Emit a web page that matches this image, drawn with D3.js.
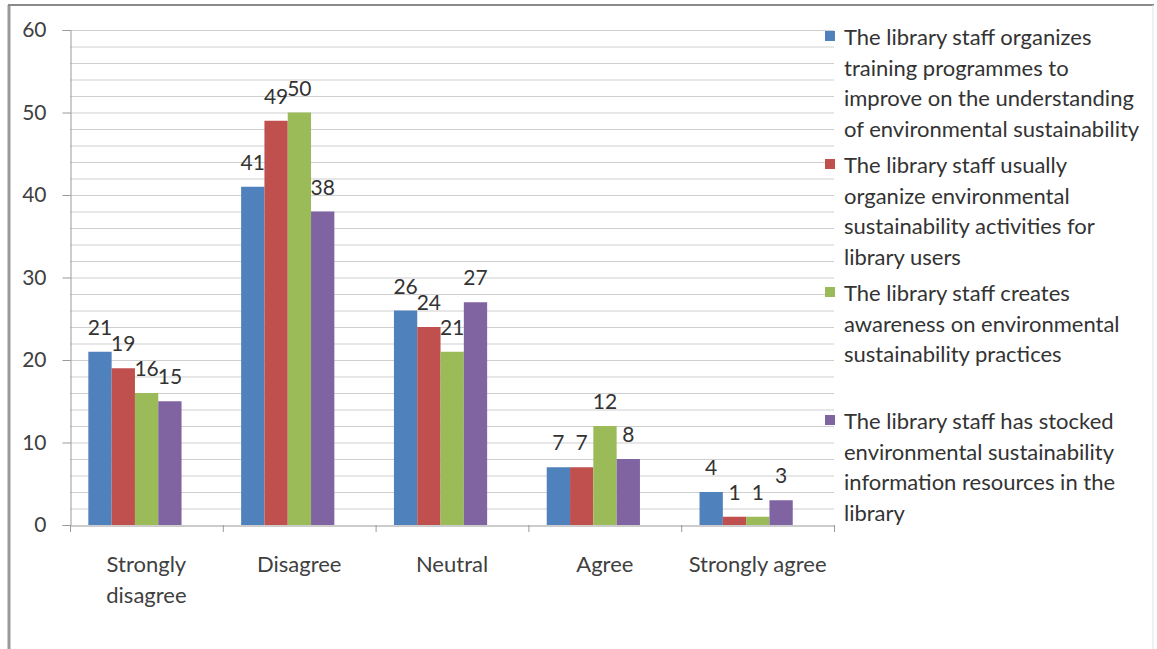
<!DOCTYPE html>
<html lang="en">
<head>
  <meta charset="utf-8">
  <script src="https://d3js.org/d3.v7.min.js"></script>
  <style>
    body { margin: 0; background: #fff; }
    text { font-family: Lato, "Open Sans", sans-serif; }
  </style>
</head>
<body>
<script>
  // categories on the x axis
  const categories = ["Strongly disagree", "Disagree", "Neutral", "Agree", "Strongly agree"];

  // one entry per series (legend text, wrapped as in the original)
  const seriesNames = [
    ["The library staff organizes", "training programmes to", "improve on the understanding", "of environmental sustainability"],
    ["The library staff usually", "organize environmental", "sustainability activities for", "library users"],
    ["The library staff creates", "awareness on environmental", "sustainability practices"],
    ["The library staff has stocked", "environmental sustainability", "information resources in the", "library"]
  ];
  const seriesColors = ["#4f81bd", "#c0504d", "#9bbb59", "#8064a2"];

  // values per series, in category order
  const training   = [21, 41, 26, 7, 4];
  const activities = [19, 49, 24, 7, 1];
  const awareness  = [16, 50, 21, 12, 1];
  const resources  = [15, 38, 27, 8, 3];
  const seriesValues = [training, activities, awareness, resources];

  const yTicks = [0, 10, 20, 30, 40, 50, 60];

  const W = 1157, H = 649;
  const svg = d3.select("body").append("svg")
    .attr("width", W)
    .attr("height", H);

  // outer frame
  svg.append("line").attr("x1", 9).attr("x2", 9).attr("y1", 5).attr("y2", H)
    .attr("stroke", "#9a9a9a").attr("stroke-width", 3);
  svg.append("line").attr("x1", 8).attr("x2", 1154).attr("y1", 5).attr("y2", 5)
    .attr("stroke", "#8a8a8a").attr("stroke-width", 2);
  svg.append("line").attr("x1", 1153).attr("x2", 1153).attr("y1", 5).attr("y2", H)
    .attr("stroke", "#e2e2e2").attr("stroke-width", 1);

  const plot = { left: 70, right: 834, top: 30, bottom: 525 };

  const x0 = d3.scaleBand()
    .domain(categories)
    .range([plot.left, plot.right]);

  const bw = x0.bandwidth();
  const x1 = d3.scaleBand()
    .domain(d3.range(seriesValues.length))
    .range([bw * 0.12, bw * 0.73]);

  const y = d3.scaleLinear()
    .domain([0, 60])
    .range([plot.bottom, plot.top]);

  // gridlines every 2 units
  svg.append("g")
    .selectAll("line")
    .data(d3.range(2, 61, 2))
    .join("line")
    .attr("x1", plot.left)
    .attr("x2", plot.right)
    .attr("y1", d => y(d) + 0.5)
    .attr("y2", d => y(d) + 0.5)
    .attr("stroke", "#cfcfcf")
    .attr("stroke-width", 1);

  // y axis
  const yAxis = svg.append("g")
    .attr("transform", `translate(${plot.left + 0.5},0)`)
    .call(d3.axisLeft(y).tickValues(yTicks).tickSize(8).tickPadding(16));
  yAxis.select(".domain").attr("stroke", "#9a9a9a");
  yAxis.selectAll(".tick line").attr("stroke", "#9a9a9a");
  yAxis.selectAll(".tick text")
    .attr("fill", "#404040")
    .style("font-size", "21px");

  // x axis
  const xAxis = svg.append("g")
    .attr("transform", `translate(0,${plot.bottom + 0.5})`)
    .call(d3.axisBottom(x0).tickSize(0).tickFormat(""));
  xAxis.select(".domain").attr("stroke", "#9a9a9a");
  xAxis.selectAll(".tick").remove();

  // category boundary tick marks
  svg.append("g")
    .selectAll("line")
    .data(categories.concat(["end"]))
    .join("line")
    .attr("x1", (d, i) => (i < categories.length ? x0(d) : plot.right) + 0.5)
    .attr("x2", (d, i) => (i < categories.length ? x0(d) : plot.right) + 0.5)
    .attr("y1", plot.bottom)
    .attr("y2", plot.bottom + 7)
    .attr("stroke", "#9a9a9a");

  // category labels
  const catLabels = svg.append("g")
    .selectAll("text")
    .data(categories)
    .join("text")
    .attr("x", d => x0(d) + bw / 2)
    .attr("y", 572)
    .attr("text-anchor", "middle")
    .attr("fill", "#404040")
    .style("font-size", "22px");
  catLabels.each(function(d) {
    const lines = d === "Strongly disagree" ? ["Strongly", "disagree"] : [d];
    d3.select(this).selectAll("tspan")
      .data(lines)
      .join("tspan")
      .attr("x", x0(d) + bw / 2)
      .attr("dy", (l, i) => i === 0 ? 0 : 31)
      .text(l => l);
  });

  // bars
  const groups = svg.append("g")
    .selectAll("g")
    .data(categories)
    .join("g")
    .attr("transform", d => `translate(${x0(d)},0)`);

  const cells = groups.selectAll("g")
    .data((c, ci) => seriesValues.map((vals, si) => ({ si, v: vals[ci] })))
    .join("g");

  cells.append("rect")
    .attr("x", d => x1(d.si))
    .attr("y", d => y(d.v))
    .attr("width", x1.bandwidth())
    .attr("height", d => y(0) - y(d.v))
    .attr("fill", d => seriesColors[d.si]);

  cells.append("text")
    .attr("x", d => x1(d.si) + x1.bandwidth() / 2)
    .attr("y", d => y(d.v) - 17)
    .attr("text-anchor", "middle")
    .attr("fill", "#333")
    .style("font-size", "21px")
    .text(d => d.v);

  // legend
  const legend = svg.append("g")
    .attr("transform", "translate(825,0)");

  const entries = legend.selectAll("g")
    .data(seriesNames)
    .join("g")
    .attr("transform", (d, i) => `translate(0,${37 + i * 128})`);

  entries.append("rect")
    .attr("x", 0)
    .attr("y", -6)
    .attr("width", 10)
    .attr("height", 10)
    .attr("fill", (d, i) => seriesColors[i]);

  entries.append("text")
    .attr("fill", "#333")
    .style("font-size", "22px")
    .selectAll("tspan")
    .data(d => d)
    .join("tspan")
    .attr("x", 19)
    .attr("y", (d, i) => i * 30.5 + 8)
    .text(d => d);
</script>
</body>
</html>
